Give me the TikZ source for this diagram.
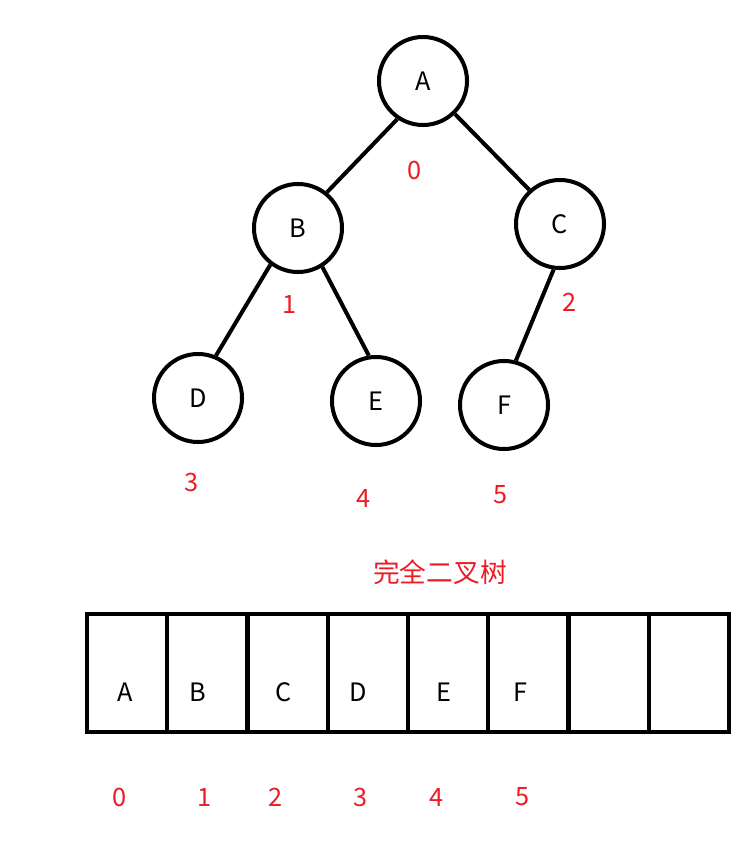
\documentclass[tikz,border=0pt]{standalone}
\usepackage{fontspec}
\setmainfont{Noto Sans CJK SC}
\usepackage{xcolor}
\usetikzlibrary{calc}
\definecolor{Ink}{HTML}{000000}
\definecolor{Red}{HTML}{ED1C24}

\begin{document}
\begin{tikzpicture}[x=0.025cm, y=-0.025cm,
    vert/.style={draw=Ink, circle, line width=2.85pt, minimum size=2.2cm, inner sep=0pt, font=\fontsize{18}{21}\selectfont},
    edge/.style={draw=Ink, line width=2.85pt},
    idx/.style={text=Red, font=\fontsize{18}{21}\selectfont},
    cell/.style={draw=Ink, line width=2.85pt, minimum width=2.00625cm, minimum height=2.95cm, inner sep=0pt, outer sep=0pt},
    lbl/.style={text=Ink, font=\fontsize{18}{21}\selectfont}
  ]
    \useasboundingbox (0,0) rectangle (744,846);
    % tree
    \node[vert] (A) at (423,81) {A};
    \node[vert] (B) at (298,228) {B};
    \node[vert] (C) at (560,224) {C};
    \node[vert] (D) at (198,398) {D};
    \node[vert] (E) at (376,401) {E};
    \node[vert] (F) at (504,405) {F};
    \draw[edge] (A.236) -- (B.51);
    \draw[edge] (A.314) -- (C.132);
    \draw[edge] (B.233) -- (D.67);
    \draw[edge] (B.302) -- (E.99);
    \draw[edge] (C.262) -- (F.75);
    \node[idx] (t0) at (415,170) {0};
    \node[idx] (t1) at (290,304) {1};
    \node[idx] (t2) at (570,302) {2};
    \node[idx] (t3) at (192,482) {3};
    \node[idx] (t4) at (364,498) {4};
    \node[idx] (t5) at (501,495) {5};
    \node[idx, font=\fontsize{19}{22}\selectfont] (title) at (440,572) {完全二叉树};
    % array
    \foreach \i in {0,...,7}
      \node[cell] (c\i) at ({87+80.25*(\i+0.5)},673) {};
    \foreach \l/\x [count=\i from 0] in {A/125,B/198,C/284,D/358,E/444,F/520}
      \node[lbl] (a\i) at (\x,692) {\l};
    \foreach \x [count=\i from 0] in {120,205,276,361,437,523}
      \node[idx] (n\i) at (\x,797) {\i};
\end{tikzpicture}
\end{document}
